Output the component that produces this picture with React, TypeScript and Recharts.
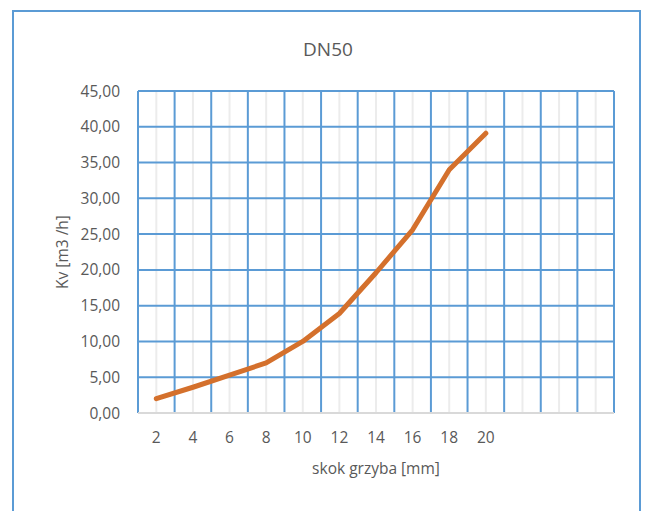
import { CartesianGrid, Line, LineChart, XAxis, YAxis } from "recharts";

const strokeMm = [2, 4, 6, 8, 10, 12, 14, 16, 18, 20];
const kvValues = [2.0, 3.6, 5.3, 7.0, 10.0, 13.9, 19.6, 25.6, 34.0, 39.1];
const xTicks = [2, 4, 6, 8, 10, 12, 14, 16, 18, 20];
const yTicks = [0, 5, 10, 15, 20, 25, 30, 35, 40, 45];
// category boundaries (blue) and category centres (light gray)
const majorX = [1, 3, 5, 7, 9, 11, 13, 15, 17, 19, 21, 23, 25, 27];
const minorX = [2, 4, 6, 8, 10, 12, 14, 16, 18, 20, 22, 24, 26];

const rows = strokeMm.map((s, i) => ({ s, kv: kvValues[i] }));

const FONT = "'Open Sans', sans-serif";
const TEXT = "#595959";
const BLUE = "#5b9bd5";

const fmt = (v: number) => v.toFixed(2).replace(".", ",");

export default function App() {
  return (
    <div
      style={{
        position: "absolute",
        left: 0,
        top: 0,
        width: 647,
        height: 511,
        overflow: "hidden",
        background: "#fff",
        fontFamily: FONT,
      }}
    >
      <div
        style={{
          position: "absolute",
          left: 12,
          top: 10,
          width: 629,
          height: 520,
          border: "2px solid " + BLUE,
          boxSizing: "border-box",
        }}
      />
      <div
        style={{
          position: "absolute",
          left: 0,
          width: 656,
          top: 36,
          textAlign: "center",
          fontSize: 19,
          color: TEXT,
        }}
      >
        DN50
      </div>
      <div style={{ position: "absolute", left: 0, top: 0 }}>
        <LineChart
          width={647}
          height={511}
          data={rows}
          margin={{ top: 91, right: 33, bottom: 34, left: 58 }}
        >
          <CartesianGrid
            horizontal={false}
            verticalValues={minorX}
            stroke="#ececec"
            strokeWidth={2}
          />
          <CartesianGrid
            verticalValues={majorX}
            stroke={BLUE}
            strokeWidth={2}
          />
          <XAxis
            dataKey="s"
            type="number"
            domain={[1, 27]}
            ticks={xTicks}
            interval={0}
            height={64}
            tickLine={false}
            tickSize={0}
            tickMargin={19}
            axisLine={{ stroke: "#d9d9d9", strokeWidth: 2 }}
            tick={{ fontSize: 15.5, fill: TEXT, fontFamily: FONT }}
            label={{
              value: "skok grzyba [mm]",
              position: "insideBottom",
              offset: 3,
              fill: TEXT,
              fontSize: 15.5,
              fontFamily: FONT,
            }}
          />
          <YAxis
            domain={[0, 45]}
            ticks={yTicks}
            width={80}
            tickLine={false}
            tickSize={0}
            tickMargin={18}
            axisLine={false}
            tickFormatter={fmt}
            tick={{ fontSize: 15.5, fill: TEXT, fontFamily: FONT }}
            label={{
              value: "Kv [m3 /h]",
              angle: -90,
              position: "insideLeft",
              offset: 4,
              fill: TEXT,
              fontSize: 15.5,
              fontFamily: FONT,
              style: { textAnchor: "middle" },
            }}
          />
          <Line
            type="linear"
            dataKey="kv"
            stroke="#d4702c"
            strokeWidth={5}
            strokeLinecap="round"
            strokeLinejoin="round"
            dot={false}
            activeDot={false}
            isAnimationActive={false}
          />
        </LineChart>
      </div>
    </div>
  );
}
